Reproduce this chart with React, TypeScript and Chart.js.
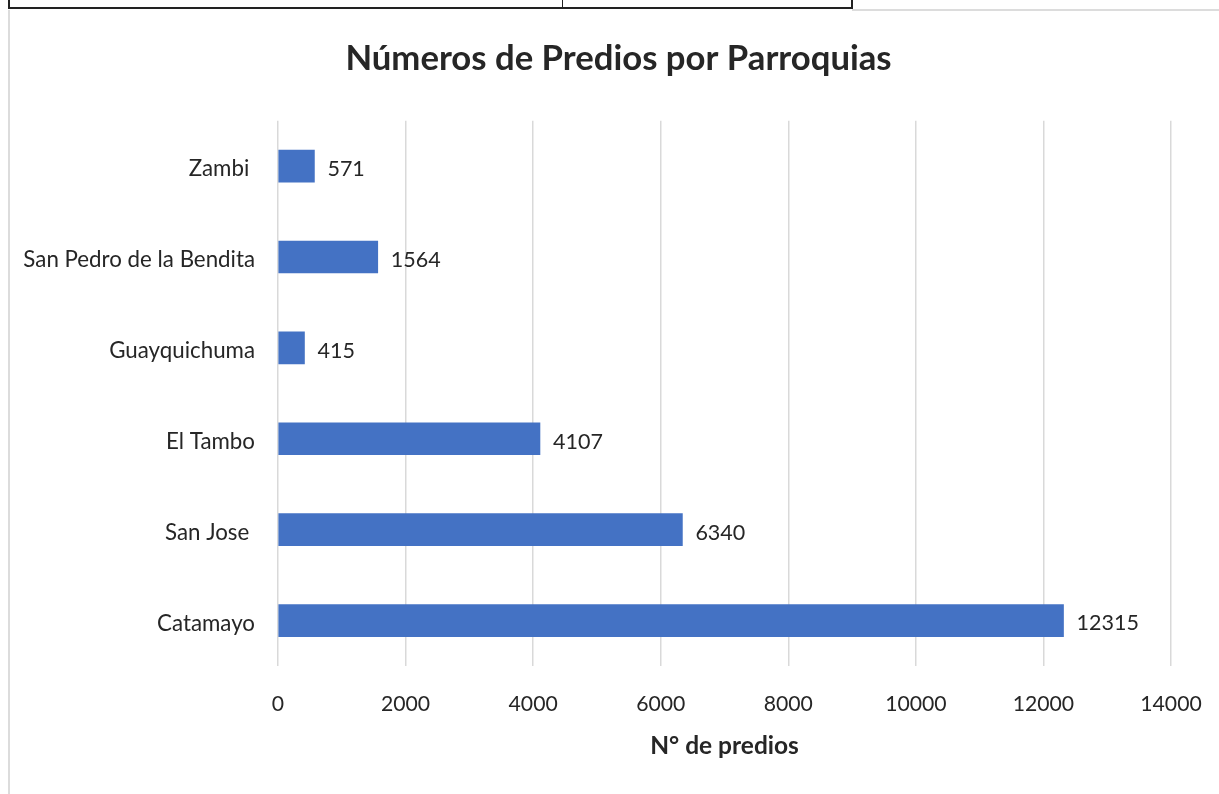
import React, { useEffect, useRef } from "react";
import { Chart, registerables } from "chart.js";

Chart.register(...registerables);

const TITLE = "Números de Predios por Parroquias";
const X_TITLE = "N° de predios";
const categories = [
  "Zambi ",
  "San Pedro de la Bendita",
  "Guayquichuma",
  "El Tambo",
  "San Jose ",
  "Catamayo",
];
const predios = [571, 1564, 415, 4107, 6340, 12315];
const X_MIN = 0;
const X_MAX = 14000;
const X_STEP = 2000;

const FONT = "Lato, 'Open Sans', sans-serif";
const TEXT = "#262626";
const BAR = "#4472C4";
const GRID = "#d9d9d9";

const valueLabels = {
  id: "valueLabels",
  afterDatasetsDraw(chart: any) {
    const ctx = chart.ctx;
    ctx.save();
    ctx.font = `21.5px ${FONT}`;
    ctx.fillStyle = TEXT;
    ctx.textAlign = "left";
    ctx.textBaseline = "middle";
    chart.data.datasets.forEach((ds: any, di: number) => {
      const meta = chart.getDatasetMeta(di);
      meta.data.forEach((el: any, i: number) => {
        ctx.fillText(String(ds.data[i]), el.x + 13, el.y + 3);
      });
    });
    ctx.restore();
  },
};

export default function App() {
  const ref = useRef<HTMLCanvasElement | null>(null);
  useEffect(() => {
    if (!ref.current) return;
    const chart = new Chart(ref.current, {
      type: "bar",
      data: {
        labels: categories,
        datasets: [
          {
            label: X_TITLE,
            data: predios,
            backgroundColor: BAR,
            barThickness: 32,
          },
        ],
      },
      options: {
        indexAxis: "y",
        responsive: false,
        animation: false,
        devicePixelRatio: 1,
        layout: { padding: { left: 18, right: 0, top: 0, bottom: 0 } },
        plugins: {
          legend: { display: false },
          tooltip: { enabled: false },
          title: {
            display: true,
            text: TITLE,
            color: TEXT,
            font: { family: FONT, size: 34.7, weight: "bold" },
            padding: { top: 38, bottom: 41 },
          },
        },
        scales: {
          x: {
            min: X_MIN,
            max: X_MAX,
            ticks: {
              stepSize: X_STEP,
              color: TEXT,
              font: { family: FONT, size: 21.2 },
              padding: 0,
              maxRotation: 0,
              callback: (v: any) => String(v),
            },
            grid: {
              color: GRID,
              lineWidth: 1.5,
              drawTicks: true,
              tickLength: 25,
              tickColor: "rgba(0,0,0,0)",
            },
            border: { display: false },
            title: {
              display: true,
              text: X_TITLE,
              color: TEXT,
              font: { family: FONT, size: 24.5, weight: "bold" },
              padding: { top: 0, bottom: 33 },
            },
            afterFit(scale: any) {
              scale.height = 128;
            },
          },
          y: {
            ticks: {
              color: TEXT,
              font: { family: FONT, size: 22.3 },
              padding: 23,
              labelOffset: 3,
            },
            grid: { display: false, drawTicks: false },
            border: { display: false },
            afterFit(scale: any) {
              scale.width = 260;
            },
          },
          yRight: {
            type: "category",
            position: "right",
            ticks: { display: false },
            grid: { display: false, drawTicks: false },
            border: { display: false },
            afterFit(scale: any) {
              scale.width = 48;
            },
          },
        },
      },
      plugins: [valueLabels],
    });
    return () => chart.destroy();
  }, []);

  const line = (s: React.CSSProperties) => (
    <div style={{ position: "absolute", pointerEvents: "none", ...s }} />
  );

  return (
    <div style={{ position: "absolute", left: 0, top: 0, width: 1219, height: 794, background: "#fff", overflow: "hidden" }}>
      <canvas ref={ref} width={1219} height={794} style={{ position: "absolute", left: 0, top: 0, display: "block" }} />
      {line({ left: 8, top: 10, width: 2, height: 784, background: "#dcdcdc" })}
      {line({ left: 852, top: 9, width: 367, height: 2, background: "#dcdcdc" })}
      {line({ left: 8, top: 7, width: 845, height: 2, background: "#222" })}
      {line({ left: 8, top: 0, width: 2, height: 9, background: "#222" })}
      {line({ left: 562, top: 0, width: 1, height: 8, background: "#222" })}
      {line({ left: 851, top: 0, width: 2, height: 9, background: "#222" })}
    </div>
  );
}
